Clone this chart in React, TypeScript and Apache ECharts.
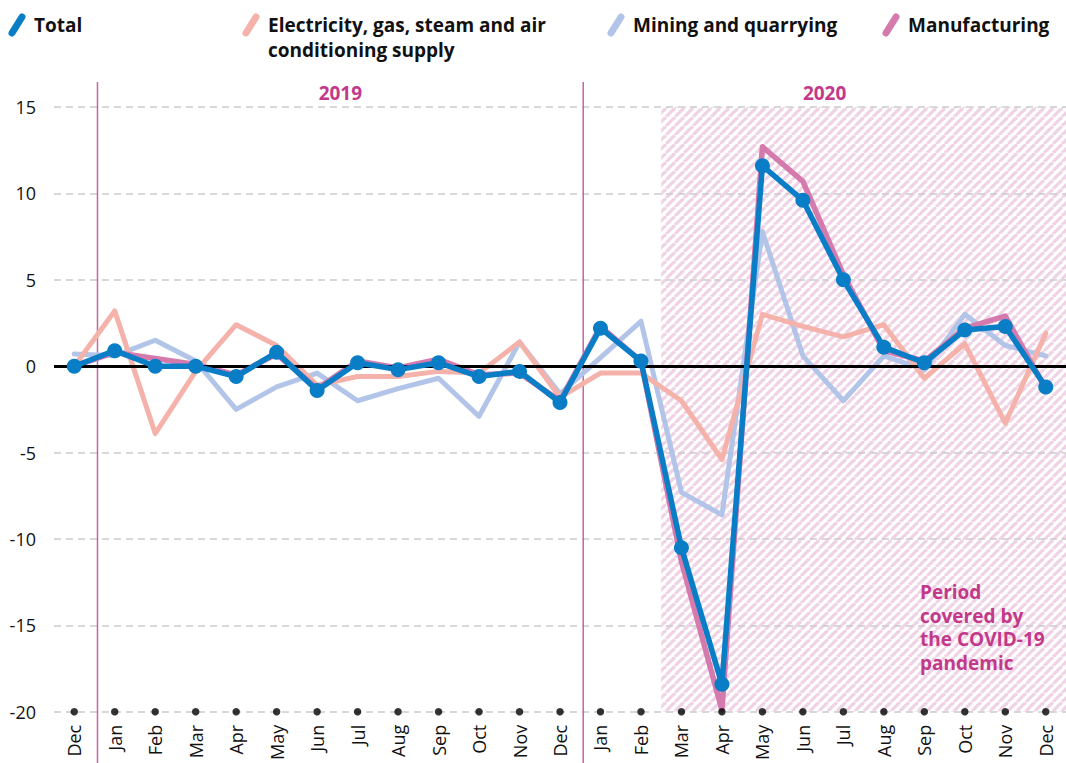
import React, { useEffect, useRef } from 'react';
import * as echarts from 'echarts';

const categories = ['Dec', 'Jan', 'Feb', 'Mar', 'Apr', 'May', 'Jun', 'Jul', 'Aug', 'Sep', 'Oct', 'Nov', 'Dec',
  'Jan', 'Feb', 'Mar', 'Apr', 'May', 'Jun', 'Jul', 'Aug', 'Sep', 'Oct', 'Nov', 'Dec'];
const yearLabels = ['2019', '2020'];
const yearStartIndices = [1, 13];
const covidStartIndex = 15;

const total = [0, 0.9, 0, 0, -0.6, 0.8, -1.4, 0.2, -0.2, 0.2, -0.6, -0.3, -2.1,
  2.2, 0.3, -10.5, -18.4, 11.6, 9.6, 5.0, 1.1, 0.2, 2.1, 2.3, -1.2];
const manufacturing = [0, 0.8, 0.45, 0.1, -0.5, 0.7, -1.3, 0.3, -0.1, 0.4, -0.5, -0.4, -2.0,
  2.3, 0.3, -11.3, -19.9, 12.7, 10.7, 5.3, 0.9, 0.3, 2.2, 2.9, -1.3];
const electricity = [0, 3.2, -3.9, -0.3, 2.4, 1.2, -1.1, -0.6, -0.6, -0.3, -0.4, 1.4, -1.8,
  -0.4, -0.4, -2.0, -5.4, 3.0, 2.3, 1.7, 2.4, -0.7, 1.3, -3.3, 1.9];
const mining = [0.7, 0.6, 1.5, 0.3, -2.5, -1.2, -0.4, -2.0, -1.3, -0.7, -2.9, 1.4, -1.6,
  0.5, 2.6, -7.3, -8.6, 7.8, 0.6, -2.0, 0.6, -0.2, 3.0, 1.2, 0.6];

const Y_MIN = -20;
const Y_MAX = 15;
const Y_STEP = 5;

const covidNote = ['Period', 'covered by', 'the COVID-19', 'pandemic'];

const C_TOTAL = '#0a7dc7';
const C_MANU = '#d47aad';
const C_ELEC = '#f5b2aa';
const C_MINING = '#b2c5e8';
const C_MAGENTA = '#c3398a';
const FONT = '"Open Sans", "Noto Sans", sans-serif';

function makeHatch(): HTMLCanvasElement {
  const s = 9;
  const c = document.createElement('canvas');
  c.width = s;
  c.height = s;
  const ctx = c.getContext('2d')!;
  ctx.strokeStyle = '#efd2e5';
  ctx.lineWidth = 3.2;
  for (const k of [-1, 0, 1]) {
    ctx.beginPath();
    ctx.moveTo(k * s, s);
    ctx.lineTo(k * s + s, 0);
    ctx.stroke();
  }
  return c;
}

export default function App() {
  const ref = useRef<HTMLDivElement>(null);
  useEffect(() => {
    document.body.style.margin = '0';
    const chart = echarts.init(ref.current!, null, { renderer: 'svg' });
    const lineSeries = (name: string, data: number[], color: string, width: number, z: number, extra: any = {}) => ({
      name, type: 'line', data, z,
      symbol: 'none',
      lineStyle: { color, width, cap: 'round', join: 'round' },
      itemStyle: { color },
      ...extra,
    });
    chart.setOption({
      animation: false,
      textStyle: { fontFamily: FONT },
      grid: { left: 54, top: 107, width: 1015, bottom: 49 },
      xAxis: {
        type: 'category', data: categories, boundaryGap: true,
        axisLine: { show: false }, axisTick: { show: false },
        axisLabel: { rotate: 90, interval: 0, fontSize: 18, color: '#111', margin: 13, fontFamily: FONT },
        splitLine: { show: false },
      },
      yAxis: {
        type: 'value', min: Y_MIN, max: Y_MAX, interval: Y_STEP,
        axisLine: { show: false }, axisTick: { show: false },
        axisLabel: { fontSize: 18, color: '#111', margin: 18, fontFamily: FONT },
        splitLine: { show: true, lineStyle: { color: '#cccccc', width: 1.5, type: [7, 5] } },
      },
      series: [
        lineSeries('Mining and quarrying', mining, C_MINING, 5, 2, {
          markLine: {
            silent: true, symbol: 'none', label: { show: false },
            lineStyle: { color: '#000', width: 2.8, type: 'solid' },
            data: [{ yAxis: 0 }],
          },
        }),
        lineSeries('Electricity, gas, steam and air conditioning supply', electricity, C_ELEC, 5, 3),
        lineSeries('Manufacturing', manufacturing, C_MANU, 5.5, 4),
        {
          name: 'Total', type: 'line', data: total, z: 5,
          symbol: 'circle', symbolSize: 15, showSymbol: true,
          lineStyle: { color: C_TOTAL, width: 5.5, join: 'round' },
          itemStyle: { color: C_TOTAL },
        },
        {
          name: 'axisDots', type: 'scatter', z: 10, clip: false, silent: true,
          symbolSize: 7.5, itemStyle: { color: '#000' },
          data: categories.map((_, i) => [i, Y_MIN]),
        },
      ],
    });

    const xAt = (i: number) => chart.convertToPixel({ xAxisIndex: 0 }, i) as number;
    const yTop = chart.convertToPixel({ yAxisIndex: 0 }, Y_MAX) as number;
    const yBot = chart.convertToPixel({ yAxisIndex: 0 }, Y_MIN) as number;
    const step = xAt(1) - xAt(0);
    const gridRight = xAt(categories.length - 1) + step / 2;
    const yearLines = yearStartIndices.map((i) => xAt(i) - step / 2 + 3);
    const yearCenters = [(yearLines[0] + yearLines[1]) / 2, (yearLines[1] + gridRight) / 2];
    const hatchX = xAt(covidStartIndex) - step / 2;

    const txt = (text: string, x: number, y: number, color: string, align = 'left') => ({
      type: 'text', z: 20,
      style: {
        text, x, y, fill: color,
        fontSize: 19, fontWeight: 'bold', fontFamily: FONT,
        align, verticalAlign: 'middle', textAlign: align, textVerticalAlign: 'middle',
      },
    });
    const icon = (x: number, color: string) => ({
      type: 'line', z: 20,
      shape: { x1: x, y1: 33, x2: x + 10, y2: 17 },
      style: { stroke: color, lineWidth: 7, lineCap: 'round' },
    });

    const graphic: any[] = [
      {
        type: 'rect', z: -1, silent: true,
        shape: { x: hatchX, y: yTop, width: gridRight - hatchX, height: yBot - yTop },
        style: { fill: { image: makeHatch(), repeat: 'repeat' } },
      },
      ...yearLines.map((x) => ({
        type: 'line', z: 1, silent: true,
        shape: { x1: x, y1: 82, x2: x, y2: 763 },
        style: { stroke: '#c866a1', lineWidth: 1.5 },
      })),
      ...yearLabels.map((t, i) => txt(t, yearCenters[i], 93, C_MAGENTA, 'center')),
      ...covidNote.map((t, i) => txt(t, 920, 592 + i * 23.5, C_MAGENTA)),
      icon(12, C_TOTAL), txt('Total', 34, 25, '#111'),
      icon(246, C_ELEC), txt('Electricity, gas, steam and air', 268, 25, '#111'),
      txt('conditioning supply', 268, 50, '#111'),
      icon(611, C_MINING), txt('Mining and quarrying', 633, 25, '#111'),
      icon(886, C_MANU), txt('Manufacturing', 908, 25, '#111'),
    ];
    chart.setOption({ graphic });
    return () => chart.dispose();
  }, []);
  return <div ref={ref} style={{ width: 1066, height: 763 }} />;
}
